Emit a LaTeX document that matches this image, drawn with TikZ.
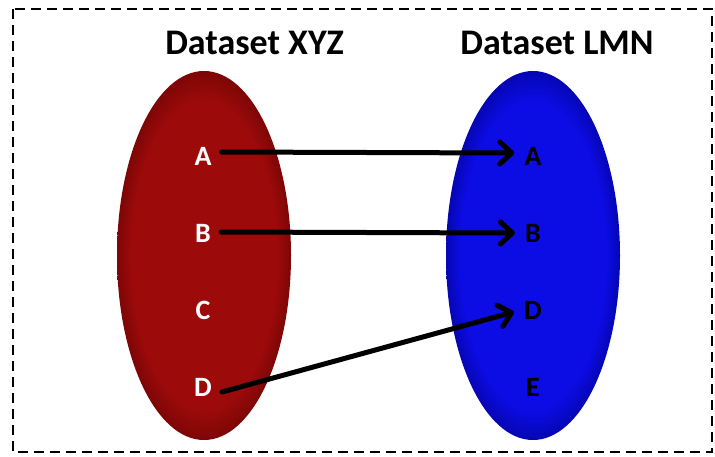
\documentclass[tikz,border=0pt]{standalone}
\usepackage{fontspec}
\setmainfont{Carlito}
\usetikzlibrary{arrows.meta,shapes.geometric}

% set colours
\definecolor{setred}{RGB}{156,10,10}
\definecolor{setredrim}{RGB}{125,6,6}
\definecolor{setblue}{RGB}{12,12,228}
\definecolor{setbluerim}{RGB}{6,6,180}

% flat fill that darkens slightly towards the rim
\pgfdeclareradialshading{redset}{\pgfpoint{0bp}{0bp}}{%
  color(0bp)=(setred); color(21bp)=(setred);
  color(25bp)=(setredrim); color(50bp)=(setredrim)}
\pgfdeclareradialshading{blueset}{\pgfpoint{0bp}{0bp}}{%
  color(0bp)=(setblue); color(21bp)=(setblue);
  color(25bp)=(setbluerim); color(50bp)=(setbluerim)}

\tikzset{
  setblob/.style={ellipse, minimum width=174pt, minimum height=369pt, inner sep=0pt},
  settitle/.style={font=\bfseries\fontsize{36}{36}\selectfont, inner sep=0pt},
  setletter/.style={font=\bfseries\fontsize{28}{28}\selectfont, inner xsep=10pt, inner ysep=2pt},
  link/.style={line width=5pt, line cap=round,
    -{Straight Barb[length=12pt, width=22pt, line cap=round, line join=round]}},
}

\begin{document}
\begin{tikzpicture}[x=1pt, y=-1pt]
  \useasboundingbox (0,0) rectangle (715,456);

  % dashed frame
  \draw[line width=1.5pt, dash pattern=on 10pt off 6pt] (13,9) rectangle (712,452);

  % the two sets
  \node[setblob, shading=redset] (xyz) at (204,255.5) {};
  \node[setblob, shading=blueset] (lmn) at (533,255.5) {};

  % titles
  \node[settitle] (txyz) at (254.5,43) {Dataset XYZ};
  \node[settitle] (tlmn) at (557,43) {Dataset LMN};

  % members of XYZ
  \node[setletter, text=white] (xA) at (203,156) {A};
  \node[setletter, text=white] (xB) at (203,233) {B};
  \node[setletter, text=white] (xC) at (203,310) {C};
  \node[setletter, text=white] (xD) at (203,387) {D};

  % members of LMN
  \node[setletter] (yA) at (533,156) {A};
  \node[setletter] (yB) at (533,233) {B};
  \node[setletter] (yD) at (533,310) {D};
  \node[setletter] (yE) at (533,387) {E};

  % mapping
  \draw[link] ([yshift=4pt]xA.east) -- ([yshift=3pt]yA.west);
  \draw[link] ([yshift=1pt]xB.east) -- ([yshift=0pt]yB.west);
  \draw[link] ([yshift=-5pt]xD.east) -- ([yshift=-2pt]yD.west);
\end{tikzpicture}
\end{document}
